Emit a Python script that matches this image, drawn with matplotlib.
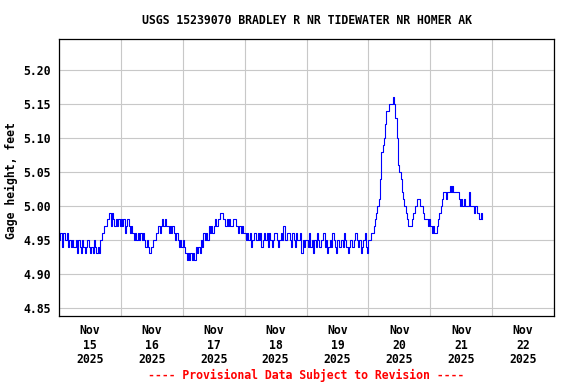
import matplotlib
matplotlib.use("Agg")
import matplotlib.pyplot as plt
from datetime import datetime, timedelta

# half-hourly gage height readings (feet)
nov15 = [4.95, 4.96, 4.94, 4.96, 4.96, 4.95, 4.96, 4.94, 4.95, 4.94, 4.95, 4.94,
         4.94, 4.95, 4.93, 4.95, 4.94, 4.93, 4.95, 4.94, 4.93, 4.94, 4.95, 4.94,
         4.93, 4.94, 4.93, 4.95, 4.94, 4.93, 4.94, 4.93, 4.95, 4.96, 4.96, 4.97,
         4.97, 4.98, 4.98, 4.99, 4.97, 4.99, 4.98, 4.97, 4.98, 4.97, 4.98, 4.97]
nov16 = [4.98, 4.97, 4.98, 4.96, 4.97, 4.98, 4.97, 4.96, 4.97, 4.96, 4.95, 4.96,
         4.95, 4.96, 4.95, 4.96, 4.95, 4.96, 4.95, 4.94, 4.95, 4.94, 4.93, 4.94,
         4.94, 4.95, 4.95, 4.96, 4.96, 4.97, 4.96, 4.97, 4.98, 4.97, 4.98, 4.97,
         4.97, 4.96, 4.97, 4.96, 4.97, 4.96, 4.95, 4.96, 4.95, 4.94, 4.95, 4.94]
nov17 = [4.95, 4.94, 4.93, 4.92, 4.93, 4.92, 4.93, 4.92, 4.93, 4.92, 4.94, 4.93,
         4.94, 4.93, 4.95, 4.94, 4.96, 4.95, 4.96, 4.95, 4.97, 4.96, 4.97, 4.96,
         4.97, 4.98, 4.97, 4.98, 4.98, 4.99, 4.99, 4.98, 4.98, 4.97, 4.98, 4.97,
         4.98, 4.97, 4.97, 4.98, 4.98, 4.97, 4.97, 4.96, 4.97, 4.96, 4.97, 4.96]
nov18 = [4.96, 4.95, 4.96, 4.95, 4.96, 4.94, 4.95, 4.96, 4.96, 4.95, 4.96, 4.95,
         4.96, 4.94, 4.95, 4.96, 4.95, 4.96, 4.94, 4.96, 4.95, 4.94, 4.95, 4.96,
         4.96, 4.95, 4.94, 4.95, 4.96, 4.95, 4.97, 4.95, 4.95, 4.96, 4.96, 4.95,
         4.94, 4.96, 4.95, 4.94, 4.96, 4.95, 4.95, 4.96, 4.93, 4.95, 4.94, 4.95]
nov19 = [4.95, 4.94, 4.96, 4.94, 4.95, 4.93, 4.95, 4.94, 4.96, 4.95, 4.94, 4.95,
         4.95, 4.96, 4.94, 4.95, 4.93, 4.94, 4.95, 4.94, 4.96, 4.95, 4.94, 4.93,
         4.95, 4.94, 4.94, 4.95, 4.94, 4.96, 4.95, 4.94, 4.93, 4.94, 4.95, 4.94,
         4.94, 4.95, 4.96, 4.95, 4.94, 4.95, 4.93, 4.94, 4.95, 4.96, 4.94, 4.93]
nov20 = [4.95, 4.95, 4.96, 4.96, 4.97, 4.98, 4.99, 5.00, 5.01, 5.04, 5.08, 5.09,
         5.10, 5.12, 5.14, 5.14, 5.15, 5.15, 5.15, 5.16, 5.15, 5.13, 5.10, 5.06,
         5.05, 5.04, 5.02, 5.01, 5.00, 4.99, 4.98, 4.97, 4.97, 4.97, 4.98, 4.99,
         5.00, 5.00, 5.01, 5.01, 5.00, 5.00, 4.99, 4.98, 4.98, 4.98, 4.97, 4.98]
nov21 = [4.97, 4.96, 4.97, 4.96, 4.96, 4.97, 4.98, 4.99, 5.00, 5.01, 5.02, 5.02,
         5.01, 5.02, 5.02, 5.03, 5.02, 5.03, 5.02, 5.02, 5.02, 5.02, 5.01, 5.00,
         5.01, 5.00, 5.01, 5.00, 5.00, 5.00, 5.02, 5.00, 5.00, 5.00, 4.99, 5.00,
         4.99, 4.99, 4.98, 4.99, 4.98]

gage = nov15 + nov16 + nov17 + nov18 + nov19 + nov20 + nov21
start = datetime(2025, 11, 15)
times = [start + timedelta(minutes=30 * i) for i in range(len(gage))]

yticks = [4.85, 4.90, 4.95, 5.00, 5.05, 5.10, 5.15, 5.20]
days = [datetime(2025, 11, d) for d in range(15, 24)]
day_labels = ["Nov\n%d\n2025" % d for d in range(15, 23)]

font = "DejaVu Sans Mono"
fs = 8.3

fig = plt.figure(figsize=(5.76, 3.84), dpi=100)
ax = fig.add_axes([59 / 576, 1 - 316 / 384, 495 / 576, 277 / 384])

ax.plot(times, gage, color="#0000ff", lw=0.8, drawstyle="steps-post")

ax.set_xlim(days[0], days[-1])
ax.set_ylim(4.838, 5.2456)

ax.set_xticks(days)
ax.set_xticklabels([])
ax.set_xticks([d + timedelta(hours=12) for d in days[:-1]], minor=True)
ax.set_xticklabels(day_labels, minor=True, fontsize=fs, fontweight="bold",
                   family=font, linespacing=1.12)
ax.tick_params(axis="x", which="both", length=0, pad=6)

ax.set_yticks(yticks)
ax.set_yticklabels(["%.2f" % v for v in yticks], fontsize=fs,
                   fontweight="bold", family=font)
ax.tick_params(axis="y", length=0, pad=5.8)

ax.grid(True, which="major", color="#c8c8c8", lw=0.8)
ax.set_axisbelow(True)
for s in ax.spines.values():
    s.set_linewidth(0.9)
    s.set_color("black")

xc = (59 + 554) / 2 / 576
fig.text(11 / 576, 1 - 181 / 384, "Gage height, feet", rotation=90,
         ha="center", va="center", fontsize=fs, fontweight="bold", family=font)
fig.text(xc, 1 - 21 / 384, "USGS 15239070 BRADLEY R NR TIDEWATER NR HOMER AK",
         ha="center", va="center", fontsize=fs, fontweight="bold", family=font)
fig.text(xc, 1 - 375 / 384, "---- Provisional Data Subject to Revision ----",
         ha="center", va="center", fontsize=fs, fontweight="bold", family=font,
         color="red")

fig.savefig("out.png", dpi=100)
